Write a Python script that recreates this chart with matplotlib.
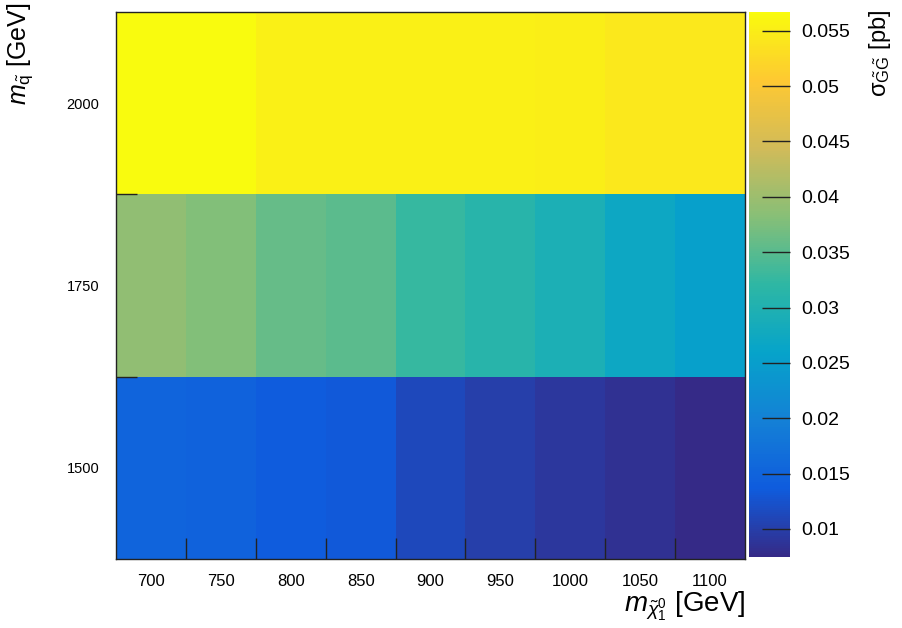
import numpy as np
import matplotlib
matplotlib.use("Agg")
import matplotlib.pyplot as plt
import matplotlib.colors as mcolors

plt.rcParams['font.family'] = ['Liberation Sans', 'DejaVu Sans']
plt.rcParams['mathtext.fontset'] = 'custom'
plt.rcParams['mathtext.rm'] = 'Liberation Sans'
plt.rcParams['mathtext.it'] = 'Liberation Sans:italic'
plt.rcParams['mathtext.bf'] = 'Liberation Sans:bold'

# bin centres
m_chi = [700, 750, 800, 850, 900, 950, 1000, 1050, 1100]
m_squark = [1500, 1750, 2000]

# cross sections [pb], one list per squark mass
xsec_1500 = [0.0150, 0.0147, 0.0138, 0.0134, 0.0112, 0.0101, 0.0092, 0.0084, 0.00747]
xsec_1750 = [0.0390, 0.0378, 0.0360, 0.0351, 0.0327, 0.0311, 0.0294, 0.0271, 0.0254]
xsec_2000 = [0.0567, 0.0566, 0.0553, 0.0553, 0.0553, 0.0552, 0.0551, 0.0543, 0.0542]

cbar_ticks = [0.01, 0.015, 0.02, 0.025, 0.03, 0.035, 0.04, 0.045, 0.05, 0.055]

# ROOT kBird palette
stops = [0.0, 0.125, 0.25, 0.375, 0.5, 0.625, 0.75, 0.875, 1.0]
red = [0.2082, 0.0592, 0.0780, 0.0232, 0.1802, 0.5301, 0.8186, 0.9956, 0.9764]
green = [0.1664, 0.3599, 0.5041, 0.6419, 0.7178, 0.7492, 0.7328, 0.7862, 0.9832]
blue = [0.5293, 0.8684, 0.8385, 0.7914, 0.6425, 0.4662, 0.3499, 0.1968, 0.0539]
bird = mcolors.LinearSegmentedColormap.from_list(
    "bird", list(zip(stops, zip(red, green, blue))), N=255)

z = np.array([xsec_1500, xsec_1750, xsec_2000])
x = np.array(m_chi, dtype=float)
y = np.array(m_squark, dtype=float)
dx = x[1] - x[0]
dy = y[1] - y[0]
xedges = np.append(x - dx / 2, x[-1] + dx / 2)
yedges = np.append(y - dy / 2, y[-1] + dy / 2)

fig = plt.figure(figsize=(9.02, 6.28), dpi=100)
ax = fig.add_axes([0.1286, 0.1099, 0.6974, 0.8711])
cax = fig.add_axes([0.8304, 0.1131, 0.0455, 0.8679])

norm = mcolors.Normalize(vmin=z.min(), vmax=z.max())
mesh = ax.pcolormesh(xedges, yedges, z, cmap=bird, norm=norm, edgecolors='none')
ax.set_xlim(xedges[0], xedges[-1])
ax.set_ylim(yedges[0], yedges[-1])

# labels at bin centres, tick marks at bin edges
ax.set_xticks(x)
ax.set_xticklabels([str(v) for v in m_chi], fontsize=12)
ax.set_yticks(y)
ax.set_yticklabels([str(v) for v in m_squark], fontsize=10.5)
ax.tick_params(axis='both', which='major', length=0)
ax.tick_params(axis='x', which='major', pad=11)
ax.tick_params(axis='y', which='major', pad=12)
ax.set_xticks(xedges[1:-1], minor=True)
ax.set_yticks(yedges[1:-1], minor=True)
ax.tick_params(axis='both', which='minor', direction='in', length=15, width=1, color='#222222')
for s in ax.spines.values():
    s.set_linewidth(1.0)
    s.set_color('#222222')

cb = fig.colorbar(mesh, cax=cax)
cb.outline.set_visible(False)
cb.set_ticks(cbar_ticks)
cb.set_ticklabels([f"{t:g}" for t in cbar_ticks])
cax.minorticks_off()
cax.yaxis.set_ticks_position('right')
cax.tick_params(axis='y', which='major', direction='in', length=20, width=1,
                color='#222222', labelsize=14, pad=8)

fig.text(0.99, 0.985, r'$\mathrm{\sigma}_{\tilde{\mathrm{G}}\tilde{\mathrm{G}}}$ [pb]',
         rotation=90, ha='right', va='top', fontsize=17)
fig.text(0.022, 0.995, r'$m_{\tilde{\mathrm{q}}}$ [GeV]',
         rotation=90, ha='center', va='top', fontsize=18)
fig.text(0.826, 0.027, r'$m_{\tilde{\chi}^{0}_{1}}$ [GeV]',
         ha='right', va='baseline', fontsize=20)

fig.savefig("out.png", dpi=100)
